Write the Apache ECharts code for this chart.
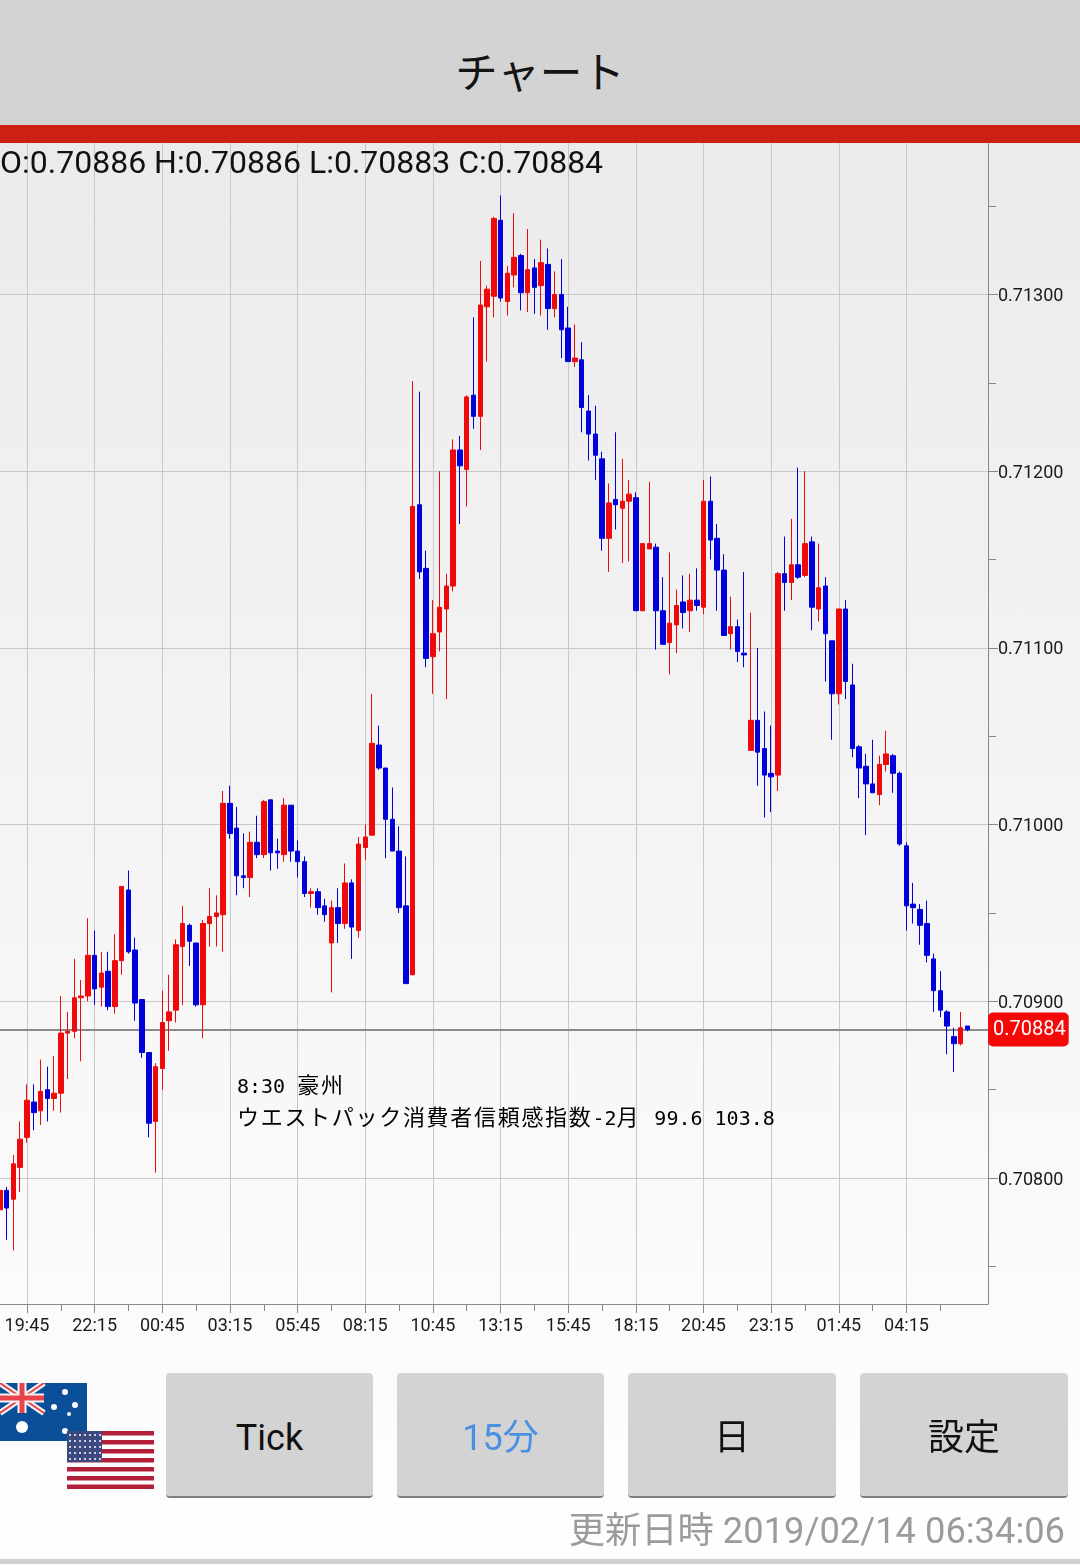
<!DOCTYPE html>
<html lang="ja">
<head>
<meta charset="utf-8">
<title>チャート</title>
<script src="https://cdn.jsdelivr.net/npm/echarts@6/dist/echarts.min.js"></script>
<style>
  html, body { margin: 0; padding: 0; }
  body {
    position: relative; width: 1080px; height: 1566px; overflow: hidden;
    background: linear-gradient(#ebebeb 143px, #fefefe 1540px);
    font-family: Roboto, "Noto Sans CJK JP", sans-serif; color: #111;
  }
  #header {
    position: absolute; left: 0; top: 0; width: 1080px; height: 125px; background: #d3d3d3;
    font: 42.5px/140px "Noto Sans CJK JP", sans-serif; text-align: center; color: #141414;
  }
  #redbar { position: absolute; left: 0; top: 125px; width: 1080px; height: 18px; background: #cc2014; }
  #ohlc { position: absolute; left: 0; top: 142px; font-size: 32px; line-height: 40px; white-space: nowrap; color: #111; }
  #chart { position: absolute; left: 0; top: 0; width: 1080px; height: 1566px; }
  .note { position: absolute; left: 237px; white-space: pre; color: #000; font-size: 20px; line-height: 30px; font-family: "DejaVu Sans Mono", monospace; }
  .note span { font: 22px/30px "Noto Sans CJK JP", sans-serif; letter-spacing: 1.7px; }
  .btn {
    position: absolute; top: 1373px; height: 123px; background: #d3d3d3; border-radius: 4px;
    border-bottom: 2px solid #7f7f7f; box-sizing: content-box; text-align: center;
    font: 36px/130px Roboto, "Noto Sans CJK JP", sans-serif; color: #111;
  }
  #flags { position: absolute; left: 0; top: 1383px; }
  #updated { position: absolute; right: 15px; top: 1505px; font-size: 36.3px; line-height: 52px; color: #9b9b9b; white-space: nowrap; }
  #footline { position: absolute; left: 0; top: 1559px; width: 1080px; height: 5px; background: #cfcfcf; }
</style>
</head>
<body>
<div id="header">チャート</div>
<div id="redbar"></div>
<div id="chart"></div>
<div id="ohlc">O:0.70886 H:0.70886 L:0.70883 C:0.70884</div>
<div class="note" style="top:1068px">8:30 <span>豪州</span></div>
<div class="note" style="top:1100px"><span>ウエストパック消費者信頼感指数</span>-2<span style="margin-right:2px">月</span> 99.6 103.8</div>

<svg id="flags" width="156" height="108" viewBox="0 0 156 108">
  <rect x="0" y="0" width="87" height="58" fill="#0a4f97"/>
  <g stroke="#f4f4f4" stroke-width="6"><path d="M0 0L44 30M44 0L0 30"/></g>
  <g stroke="#e8434a" stroke-width="2"><path d="M0 0L44 30M44 0L0 30"/></g>
  <path d="M22 0V30M0 15H44" stroke="#f4f4f4" stroke-width="9"/>
  <path d="M22 0V30M0 15H44" stroke="#e8434a" stroke-width="5"/>
  <g fill="#fff">
    <circle cx="22" cy="44" r="6"/><circle cx="65" cy="9" r="3"/><circle cx="75" cy="22" r="3"/>
    <circle cx="54" cy="24" r="3"/><circle cx="69" cy="31" r="2"/><circle cx="65" cy="48" r="3"/>
  </g>
  <rect x="67" y="48" width="87" height="58" fill="#fff"/>
  <g fill="#b3203a">
    <rect x="67" y="48" width="87" height="4.5"/><rect x="67" y="57" width="87" height="4.5"/>
    <rect x="67" y="66" width="87" height="4.5"/><rect x="67" y="75" width="87" height="4.5"/>
    <rect x="67" y="84" width="87" height="4.5"/><rect x="67" y="93" width="87" height="4.5"/>
    <rect x="67" y="101.5" width="87" height="4.5"/>
  </g>
  <rect x="67" y="48" width="35" height="31" fill="#3c4a80"/>
  <path d="M69 52H101M69 58H101M69 64H101M69 70H101M69 76H101" stroke="#c9cfe2" stroke-width="2" stroke-dasharray="2 3"/>
</svg>

<div class="btn" style="left:166px;width:207px">Tick</div>
<div class="btn" style="left:397px;width:207px;color:#4a90e2">15分</div>
<div class="btn" style="left:628px;width:208px">日</div>
<div class="btn" style="left:860px;width:208px">設定</div>

<div id="updated">更新日時 2019/02/14 06:34:06</div>
<div id="footline"></div>

<script>
// 1本目は画面左端、0番が 19:45 の足
const firstIndex = -4;
const tickLabels = ['19:45', '22:15', '00:45', '03:15', '05:45', '08:15', '10:45', '13:15', '15:45', '18:15', '20:45', '23:15', '01:45', '04:15'];
const xMajorTicks = [0, 10, 20, 30, 40, 50, 60, 70, 80, 90, 100, 110, 120, 130];
const xMinorTicks = [5, 15, 25, 35, 45, 55, 65, 75, 85, 95, 105, 115, 125, 135];
const yMajorTicks = [0.708, 0.709, 0.71, 0.711, 0.712, 0.713];
const yMinorTicks = [0.7075, 0.7085, 0.7095, 0.7105, 0.7115, 0.7125, 0.7135];
const lastPrice = 0.70884;

const opens = [
  0.70782, 0.70793, 0.70788, 0.70806, 0.70823, 0.70843, 0.70838, 0.70850, 0.70845, 0.70848,
  0.70882, 0.70883, 0.70902, 0.70903, 0.70926, 0.70908, 0.70917, 0.70897, 0.70923, 0.70963,
  0.70929, 0.70901, 0.70871, 0.70832, 0.70862, 0.70889, 0.70895, 0.70931, 0.70943, 0.70933,
  0.70898, 0.70944, 0.70948, 0.70949, 0.71012, 0.70998, 0.70971, 0.70970, 0.70990, 0.70983,
  0.71014, 0.70985, 0.70983, 0.71011, 0.70985, 0.70979, 0.70961, 0.70962, 0.70954, 0.70933,
  0.70953, 0.70944, 0.70967, 0.70940, 0.70987, 0.70994, 0.71045, 0.71032, 0.71003, 0.70985,
  0.70954, 0.70915, 0.71181, 0.71145, 0.71095, 0.71109, 0.71122, 0.71135, 0.71212, 0.71201,
  0.71243, 0.71231, 0.71293, 0.71299, 0.71342, 0.71296, 0.71311, 0.71322, 0.71301, 0.71315,
  0.71305, 0.71317, 0.71292, 0.71300, 0.71281, 0.71262, 0.71263, 0.71234, 0.71221, 0.71207,
  0.71162, 0.71184, 0.71179, 0.71183, 0.71185, 0.71121, 0.71156, 0.71157, 0.71121, 0.71103,
  0.71113, 0.71126, 0.71121, 0.71127, 0.71123, 0.71183, 0.71162, 0.71144, 0.71108, 0.71112,
  0.71097, 0.71042, 0.71059, 0.71043, 0.71029, 0.71028, 0.71142, 0.71137, 0.71147, 0.71141,
  0.71160, 0.71122, 0.71135, 0.71104, 0.71074, 0.71122, 0.71079, 0.71044, 0.71033, 0.71023,
  0.71017, 0.71034, 0.71039, 0.71029, 0.70988, 0.70955, 0.70952, 0.70944, 0.70924, 0.70906,
  0.70894, 0.70880, 0.70876, 0.70886
];
const closes = [
  0.70793, 0.70783, 0.70808, 0.70822, 0.70844, 0.70837, 0.70849, 0.70845, 0.70848, 0.70882,
  0.70883, 0.70902, 0.70903, 0.70926, 0.70907, 0.70916, 0.70897, 0.70923, 0.70965, 0.70928,
  0.70899, 0.70871, 0.70831, 0.70863, 0.70888, 0.70894, 0.70932, 0.70944, 0.70934, 0.70898,
  0.70944, 0.70948, 0.70950, 0.71012, 0.70995, 0.70971, 0.70970, 0.70990, 0.70983, 0.71013,
  0.70984, 0.70984, 0.71011, 0.70985, 0.70979, 0.70961, 0.70962, 0.70953, 0.70949, 0.70953,
  0.70944, 0.70967, 0.70942, 0.70989, 0.70993, 0.71046, 0.71032, 0.71003, 0.70985, 0.70953,
  0.70910, 0.71180, 0.71143, 0.71094, 0.71108, 0.71123, 0.71135, 0.71212, 0.71203, 0.71242,
  0.71231, 0.71294, 0.71303, 0.71343, 0.71298, 0.71312, 0.71321, 0.71301, 0.71314, 0.71304,
  0.71318, 0.71292, 0.71300, 0.71280, 0.71262, 0.71264, 0.71236, 0.71221, 0.71209, 0.71162,
  0.71182, 0.71181, 0.71183, 0.71187, 0.71121, 0.71159, 0.71159, 0.71121, 0.71102, 0.71114,
  0.71124, 0.71120, 0.71127, 0.71124, 0.71183, 0.71161, 0.71144, 0.71107, 0.71112, 0.71098,
  0.71096, 0.71059, 0.71041, 0.71028, 0.71027, 0.71142, 0.71137, 0.71147, 0.71140, 0.71159,
  0.71123, 0.71134, 0.71108, 0.71074, 0.71122, 0.71081, 0.71043, 0.71032, 0.71023, 0.71018,
  0.71034, 0.71040, 0.71029, 0.70989, 0.70954, 0.70953, 0.70943, 0.70926, 0.70906, 0.70895,
  0.70886, 0.70876, 0.70885, 0.70884
];
const lows = [
  0.70770, 0.70765, 0.70759, 0.70792, 0.70820, 0.70827, 0.70830, 0.70832, 0.70838, 0.70837,
  0.70856, 0.70879, 0.70866, 0.70900, 0.70898, 0.70897, 0.70895, 0.70893, 0.70915, 0.70927,
  0.70889, 0.70868, 0.70823, 0.70803, 0.70850, 0.70872, 0.70888, 0.70898, 0.70920, 0.70897,
  0.70879, 0.70931, 0.70931, 0.70928, 0.70992, 0.70960, 0.70964, 0.70959, 0.70981, 0.70981,
  0.70974, 0.70975, 0.70979, 0.70979, 0.70970, 0.70959, 0.70953, 0.70949, 0.70945, 0.70905,
  0.70933, 0.70941, 0.70924, 0.70936, 0.70980, 0.70994, 0.71031, 0.70981, 0.70985, 0.70950,
  0.70910, 0.70915, 0.71139, 0.71089, 0.71074, 0.71098, 0.71071, 0.71132, 0.71170, 0.71180,
  0.71224, 0.71212, 0.71262, 0.71287, 0.71296, 0.71288, 0.71304, 0.71291, 0.71290, 0.71289,
  0.71288, 0.71280, 0.71287, 0.71264, 0.71262, 0.71259, 0.71222, 0.71206, 0.71195, 0.71155,
  0.71143, 0.71167, 0.71148, 0.71149, 0.71121, 0.71121, 0.71156, 0.71099, 0.71102, 0.71085,
  0.71097, 0.71111, 0.71109, 0.71121, 0.71119, 0.71150, 0.71121, 0.71107, 0.71099, 0.71092,
  0.71089, 0.71042, 0.71022, 0.71004, 0.71007, 0.71019, 0.71121, 0.71127, 0.71139, 0.71140,
  0.71110, 0.71115, 0.71081, 0.71048, 0.71068, 0.71071, 0.71038, 0.71015, 0.70994, 0.71018,
  0.71011, 0.71030, 0.71018, 0.70988, 0.70940, 0.70944, 0.70932, 0.70922, 0.70894, 0.70891,
  0.70870, 0.70860, 0.70875, 0.70883
];
const highs = [
  0.70795, 0.70795, 0.70813, 0.70832, 0.70853, 0.70853, 0.70867, 0.70863, 0.70869, 0.70903,
  0.70894, 0.70924, 0.70912, 0.70947, 0.70940, 0.70928, 0.70928, 0.70938, 0.70965, 0.70974,
  0.70936, 0.70901, 0.70871, 0.70865, 0.70906, 0.70915, 0.70935, 0.70954, 0.70944, 0.70933,
  0.70946, 0.70964, 0.70960, 0.71019, 0.71022, 0.71010, 0.70995, 0.70996, 0.71005, 0.71014,
  0.71014, 0.70992, 0.71015, 0.71011, 0.70991, 0.70982, 0.70964, 0.70964, 0.70958, 0.70957,
  0.70964, 0.70978, 0.70969, 0.70993, 0.71000, 0.71074, 0.71056, 0.71032, 0.71021, 0.70999,
  0.70982, 0.71251, 0.71245, 0.71155, 0.71127, 0.71200, 0.71142, 0.71218, 0.71220, 0.71243,
  0.71287, 0.71319, 0.71305, 0.71344, 0.71356, 0.71316, 0.71346, 0.71323, 0.71337, 0.71320,
  0.71331, 0.71326, 0.71313, 0.71320, 0.71293, 0.71283, 0.71273, 0.71243, 0.71237, 0.71211,
  0.71193, 0.71222, 0.71207, 0.71195, 0.71188, 0.71159, 0.71194, 0.71159, 0.71140, 0.71154,
  0.71133, 0.71141, 0.71142, 0.71145, 0.71195, 0.71197, 0.71170, 0.71153, 0.71129, 0.71116,
  0.71143, 0.71120, 0.71100, 0.71064, 0.71056, 0.71143, 0.71163, 0.71173, 0.71202, 0.71200,
  0.71163, 0.71159, 0.71140, 0.71104, 0.71122, 0.71127, 0.71091, 0.71045, 0.71040, 0.71048,
  0.71039, 0.71053, 0.71040, 0.71030, 0.70990, 0.70967, 0.70955, 0.70957, 0.70927, 0.70917,
  0.70895, 0.70885, 0.70894, 0.70886
];

const chart = echarts.init(document.getElementById('chart'), null, { renderer: 'canvas' });
const candles = opens.map((o, i) => [firstIndex + i, o, closes[i], lows[i], highs[i]]);

const axisFont = { color: '#1a1a1a', fontSize: 18, fontFamily: 'Roboto' };
const xRange = { type: 'value', min: -3.99, max: 142.05 };
const yRange = { type: 'value', position: 'right', min: 0.707287, max: 0.713857 };
const tickLine = { color: '#888', width: 1 };

chart.setOption({
  animation: false,
  grid: { left: 0, top: 143, width: 988, height: 1161, outerBoundsMode: 'none' },
  xAxis: [
    {
      ...xRange,
      axisLine: { onZero: false, lineStyle: tickLine },
      axisTick: { length: 9, lineStyle: tickLine, customValues: xMajorTicks },
      axisLabel: { ...axisFont, margin: 13, customValues: xMajorTicks, formatter: (v) => tickLabels[v / 10] },
      splitLine: { show: true, lineStyle: { color: '#c8c8c8', width: 1 } }
    },
    // 短い目盛りだけの軸
    {
      ...xRange,
      position: 'bottom',
      axisLine: { show: false, onZero: false },
      axisTick: { show: true, length: 7, lineStyle: tickLine, customValues: xMinorTicks },
      axisLabel: { show: false },
      splitLine: { show: false }
    }
  ],
  yAxis: [
    {
      ...yRange,
      axisLine: { show: true, onZero: false, lineStyle: tickLine },
      axisTick: { show: true, length: 10, lineStyle: tickLine, customValues: yMajorTicks },
      axisLabel: {
        ...axisFont,
        margin: 10,
        customValues: yMajorTicks,
        formatter: (v) => `{p|${v.toFixed(5)}}`,
        // 目盛りより少し下に置く
        rich: { p: { ...axisFont, padding: [4, 0, 0, 0] } }
      },
      splitLine: { show: true, lineStyle: { color: '#c8c8c8', width: 1 } }
    },
    {
      ...yRange,
      axisLine: { show: false, onZero: false },
      axisTick: { show: true, length: 8, lineStyle: tickLine, customValues: yMinorTicks },
      axisLabel: { show: false },
      splitLine: { show: false }
    }
  ],
  series: [{
    type: 'candlestick',
    data: candles,
    encode: { x: 0, y: [1, 2, 3, 4] },
    barWidth: 5,
    z: 3,
    itemStyle: { color: '#ee0a0a', color0: '#0000dc', borderColor: '#ee0a0a', borderColor0: '#0000dc', borderWidth: 1 },
    markLine: {
      silent: true,
      symbol: 'none',
      precision: 5,
      z: 1,
      lineStyle: { color: '#8a8a8a', width: 2, type: 'solid' },
      data: [{ yAxis: lastPrice }],
      label: {
        position: 'end',
        distance: 0,
        formatter: () => lastPrice.toFixed(5),
        color: '#fff',
        fontSize: 20,
        fontFamily: 'Roboto',
        backgroundColor: '#f40808',
        borderRadius: 5,
        padding: [9, 3, 5, 5]
      }
    }
  }]
});
</script>
</body>
</html>
